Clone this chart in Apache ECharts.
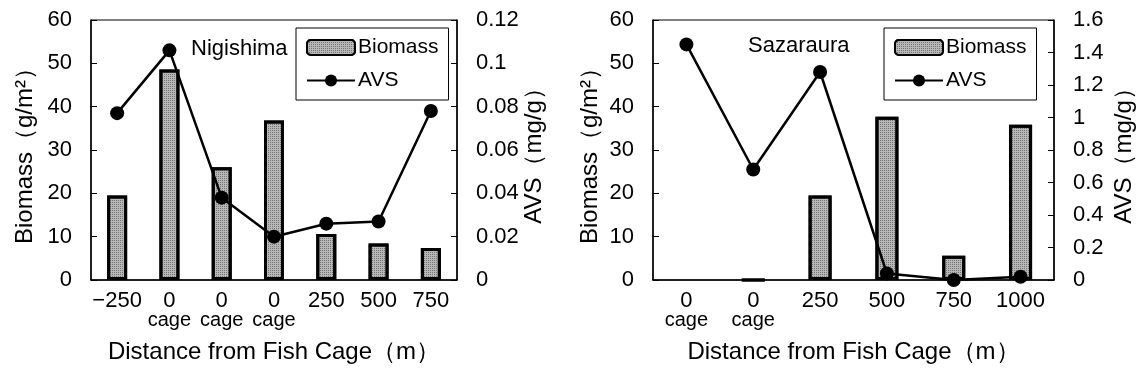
<!DOCTYPE html>
<html>
<head>
<meta charset="utf-8">
<script src="https://cdn.jsdelivr.net/npm/echarts@6/dist/echarts.min.js"></script>
<style>
html,body{margin:0;padding:0;background:#fff;}
#chart{width:1139px;height:385px;}
</style>
</head>
<body>
<div id="chart"></div>
<script>
// ---- data ----
const catsNigishima = ['−250', '0 cage', '0 cage', '0 cage', '250', '500', '750'];
const biomassNigishima = [19.5, 48.6, 26.0, 36.8, 10.6, 8.4, 7.4];
const avsNigishima = [0.077, 0.106, 0.038, 0.020, 0.026, 0.027, 0.078];

const catsSazaraura = ['0 cage', '0 cage', '250', '500', '750', '1000'];
const biomassSazaraura = [null, 0, 19.5, 37.7, 5.6, 35.8];
const avsSazaraura = [1.45, 0.68, 1.28, 0.04, 0.0, 0.02];

const biomassTicks = ['0', '10', '20', '30', '40', '50', '60'];
const avsTicksNigishima = ['0', '0.02', '0.04', '0.06', '0.08', '0.1', '0.12'];
const avsTicksSazaraura = ['0', '0.2', '0.4', '0.6', '0.8', '1', '1.2', '1.4', '1.6'];

const siteNames = ['Nigishima', 'Sazaraura'];
const xTitle = 'Distance from Fish Cage（m）';
const yLeftTitle = 'Biomass（g/m²）';
const yRightTitle = 'AVS（mg/g）';

// ---- styles ----
const FONT = 'Liberation Sans, Arial, sans-serif';
const tickFont = {color: '#000', fontSize: 22, fontFamily: FONT};
const nameFont = {fontSize: 24, fontFamily: FONT, color: '#000'};
const barFill = {
  color: '#b8b8b8',
  borderColor: '#000',
  borderWidth: 3,
  decal: {symbol: 'rect', symbolSize: 1, color: 'rgba(60,60,60,0.55)', dashArrayX: [1, 1], dashArrayY: [1, 1], rotation: 0}
};

function catLabel(v) {
  const parts = v.split(' ');
  if (parts.length > 1) return '{a|' + parts[0] + '}\n{b|' + parts[1] + '}';
  return '{a|' + v + '}';
}
const richCat = {
  a: {fontSize: 22, fontFamily: FONT, color: '#000', lineHeight: 20},
  b: {fontSize: 20, fontFamily: FONT, color: '#000', lineHeight: 19}
};

function xAxisFor(gridIndex, cats) {
  return {
    type: 'category', gridIndex: gridIndex, data: cats,
    axisLine: {lineStyle: {color: '#000', width: 1.5}},
    axisTick: {inside: true, length: 6, lineStyle: {color: '#000'}},
    axisLabel: {formatter: catLabel, rich: richCat, margin: 11, interval: 0, verticalAlign: 'top'},
    name: xTitle, nameLocation: 'middle', nameGap: 60,
    nameTextStyle: nameFont
  };
}
function yAxisFor(gridIndex, pos, max, interval, labels, title, gap) {
  return {
    type: 'value', gridIndex: gridIndex, position: pos, min: 0, max: max, interval: interval,
    axisLine: {show: true, lineStyle: {color: '#000', width: 1.5}},
    axisTick: {show: true, inside: true, length: 6, lineStyle: {color: '#000'}},
    splitLine: {show: false},
    axisLabel: Object.assign({
      margin: 19,
      formatter: function (v) { return labels[Math.round(v / interval)]; }
    }, tickFont),
    name: title, nameLocation: 'middle', nameGap: gap, nameRotate: 90,
    nameTextStyle: nameFont
  };
}
function legendFor(left) {
  return {
    orient: 'vertical', left: left, top: 28,
    data: ['Biomass', 'AVS'],
    backgroundColor: '#fff', borderColor: '#000', borderWidth: 1, borderRadius: 0,
    padding: [9, 10, 9, 10], itemGap: 12, itemWidth: 48, itemHeight: 15,
    textStyle: {fontSize: 21, fontFamily: FONT, color: '#000', padding: [0, 0, 0, -2]},
    selectedMode: false
  };
}

const option = {
  animation: false,
  backgroundColor: '#fff',
  grid: [
    {left: 91, top: 20, width: 366, height: 260, show: true, borderColor: '#000', borderWidth: 1, backgroundColor: 'transparent'},
    {left: 653, top: 20, width: 401, height: 260, show: true, borderColor: '#000', borderWidth: 1, backgroundColor: 'transparent'}
  ],
  xAxis: [xAxisFor(0, catsNigishima), xAxisFor(1, catsSazaraura)],
  yAxis: [
    yAxisFor(0, 'left', 60, 10, biomassTicks, yLeftTitle, 54),
    yAxisFor(0, 'right', 0.12, 0.02, avsTicksNigishima, yRightTitle, 52),
    yAxisFor(1, 'left', 60, 10, biomassTicks, yLeftTitle, 51),
    yAxisFor(1, 'right', 1.6, 0.2, avsTicksSazaraura, yRightTitle, 58)
  ],
  legend: [legendFor(296), legendFor(884)],
  graphic: [
    {type: 'text', left: 191, top: 38, style: {text: siteNames[0], fontSize: 22, fontFamily: FONT, fill: '#000'}},
    {type: 'text', left: 748, top: 35, style: {text: siteNames[1], fontSize: 22, fontFamily: FONT, fill: '#000'}}
  ],
  series: [
    {name: 'Biomass', type: 'bar', xAxisIndex: 0, yAxisIndex: 0, data: biomassNigishima, barWidth: 20, itemStyle: barFill, z: 2},
    {name: 'AVS', type: 'line', xAxisIndex: 0, yAxisIndex: 1, data: avsNigishima,
      symbol: 'circle', symbolSize: 14, itemStyle: {color: '#000'}, lineStyle: {color: '#000', width: 2.5}, z: 3},
    {name: 'Biomass', type: 'bar', xAxisIndex: 1, yAxisIndex: 2, data: biomassSazaraura, barWidth: 23, itemStyle: barFill, z: 2},
    {name: 'AVS', type: 'line', xAxisIndex: 1, yAxisIndex: 3, data: avsSazaraura,
      symbol: 'circle', symbolSize: 14, itemStyle: {color: '#000'}, lineStyle: {color: '#000', width: 2.5}, z: 3}
  ]
};

const chart = echarts.init(document.getElementById('chart'), null, {renderer: 'canvas'});
chart.setOption(option);
</script>
</body>
</html>
